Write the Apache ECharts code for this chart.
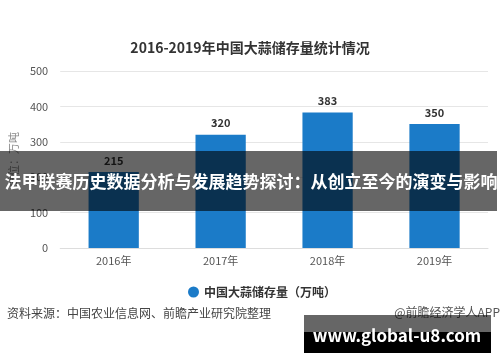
<!DOCTYPE html>
<html>
<head>
<meta charset="utf-8">
<script src="https://cdn.jsdelivr.net/npm/echarts@6/dist/echarts.min.js"></script>
<style>html,body{margin:0;padding:0;background:#fff;}#c{width:500px;height:362px;}</style>
</head>
<body>
<div id="c"></div>
<script>
var categories = ['2016年', '2017年', '2018年', '2019年'];
var storage = [215, 320, 383, 350];
var seriesName = '中国大蒜储存量（万吨）';
var titleText = '2016-2019年中国大蒜储存量统计情况';
var yTicks = [0, 100, 200, 300, 400, 500];
var sourceText = '资料来源：中国农业信息网、前瞻产业研究院整理';
var brandText = '@前瞻经济学人APP';
var bannerText = '法甲联赛历史数据分析与发展趋势探讨：从创立至今的演变与影响';
var siteText = 'www.global-u8.com';

var font = '"Microsoft YaHei","Noto Sans CJK SC",sans-serif';
var chart = echarts.init(document.getElementById('c'));
chart.setOption({
  backgroundColor: '#fff',
  animation: false,
  title: {
    text: titleText, left: 'center', top: 36,
    textStyle: {fontSize: 14, fontWeight: 'bold', color: '#333', fontFamily: font}
  },
  grid: {left: 57, right: 12, top: 71, bottom: 114},
  legend: {
    data: [seriesName], left: 183, top: 281, icon: 'circle', itemWidth: 11, itemHeight: 11, itemGap: 5,
    textStyle: {fontSize: 12, fontWeight: 'bold', color: '#333', fontFamily: font}
  },
  xAxis: {
    type: 'category', data: categories,
    axisLine: {lineStyle: {color: '#ddd'}}, axisTick: {show: false},
    axisLabel: {fontSize: 11, color: '#555', margin: 7, fontFamily: font}
  },
  yAxis: {
    type: 'value', min: yTicks[0], max: yTicks[yTicks.length - 1], interval: 100,
    name: '单位：万吨', nameLocation: 'middle', nameGap: 40,
    nameTextStyle: {fontSize: 11, color: '#888', fontFamily: font},
    axisLine: {show: false}, axisTick: {show: false},
    axisLabel: {fontSize: 11, color: '#555', margin: 12, fontFamily: font},
    splitLine: {lineStyle: {color: '#e6e6e6'}}
  },
  series: [{
    name: seriesName, type: 'bar', data: storage, barWidth: '47%',
    itemStyle: {color: '#1b7bc8'},
    label: {show: true, position: 'top', distance: 6, fontSize: 11, fontWeight: 'bold', color: '#333', fontFamily: font}
  }],
  graphic: [
    {type: 'text', left: 7, top: 307, style: {text: sourceText, fontSize: 12, fill: '#444', fontFamily: font}},
    {type: 'text', right: 0, top: 306, style: {text: brandText, fontSize: 12, fill: '#555', fontFamily: font}},
    {type: 'rect', shape: {x: 0, y: 151, width: 497, height: 60}, style: {fill: 'rgba(0,0,0,0.6)'}, z: 100},
    {type: 'text', x: 251, y: 182, style: {text: bannerText, fontSize: 17, fontWeight: 'bold', fill: '#fff', align: 'center', verticalAlign: 'middle', fontFamily: font}, z: 101},
    {type: 'rect', shape: {x: 304, y: 315, width: 187, height: 17}, style: {fill: 'rgba(0,0,0,0.6)'}, z: 100},
    {type: 'rect', shape: {x: 304, y: 332, width: 187, height: 21}, style: {fill: '#000'}, z: 100},
    {type: 'text', x: 397, y: 336, style: {text: siteText, fontSize: 17, fontWeight: 'bold', fill: '#fff', align: 'center', verticalAlign: 'middle', fontFamily: font}, z: 101}
  ]
});
</script>
</body>
</html>
